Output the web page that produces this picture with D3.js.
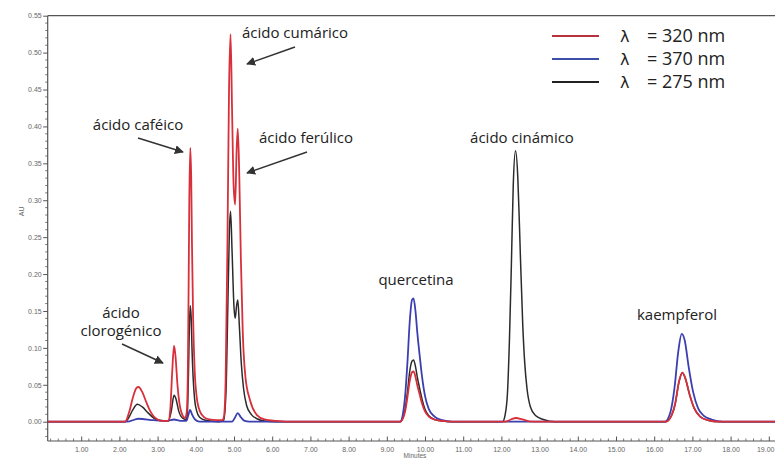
<!DOCTYPE html>
<html>
<head>
<meta charset="utf-8">
<script src="https://cdn.jsdelivr.net/npm/d3@7"></script>
<style>
  html, body { margin: 0; padding: 0; background: #fff; }
  svg { display: block; }
  .tick text { font-family: Arial, "Liberation Sans", sans-serif; }
</style>
</head>
<body>
<svg id="chart" width="775" height="459"></svg>
<script>
// Chromatogram: absorbance (AU) vs retention time (minutes) at three wavelengths.
// Each trace is a list of [minutes, AU] samples.
const trace320 = [
  [0.10, 0], [2.10, 0], [2.15, 0.000], [2.25, 0.012], [2.35, 0.032], [2.45, 0.046], [2.50, 0.047],
  [2.60, 0.040], [2.70, 0.027], [2.80, 0.015], [2.90, 0.007], [3.00, 0.003], [3.10, 0.001],
  [3.28, 0.001], [3.33, 0.015], [3.38, 0.065], [3.43, 0.103], [3.47, 0.088], [3.52, 0.050],
  [3.58, 0.022], [3.65, 0.009], [3.72, 0.005], [3.76, 0.012], [3.79, 0.060], [3.81, 0.170],
  [3.83, 0.300], [3.855, 0.371], [3.88, 0.330], [3.90, 0.240], [3.93, 0.140], [3.97, 0.070],
  [4.02, 0.035], [4.10, 0.015], [4.20, 0.007], [4.35, 0.003], [4.55, 0.002], [4.70, 0.002],
  [4.74, 0.008], [4.78, 0.055], [4.83, 0.250], [4.87, 0.450], [4.91, 0.525], [4.95, 0.420],
  [4.99, 0.320], [5.03, 0.294], [5.07, 0.370], [5.10, 0.397], [5.14, 0.330], [5.18, 0.220],
  [5.23, 0.120], [5.30, 0.060], [5.42, 0.029], [5.60, 0.009], [5.80, 0.003], [6.10, 0.001],
  [6.40, 0], [9.35, 0], [9.42, 0.004], [9.48, 0.014], [9.54, 0.033], [9.60, 0.055], [9.66, 0.067],
  [9.70, 0.068], [9.75, 0.061], [9.80, 0.049], [9.86, 0.037], [9.92, 0.025], [10.00, 0.014],
  [10.10, 0.007], [10.25, 0.003], [10.45, 0.001], [10.70, 0], [12.10, 0], [12.25, 0.003],
  [12.38, 0.005], [12.55, 0.003], [12.80, 0], [16.30, 0], [16.45, 0.008], [16.55, 0.025],
  [16.65, 0.055], [16.74, 0.0665], [16.82, 0.058], [16.92, 0.038], [17.05, 0.018], [17.20, 0.007],
  [17.40, 0.002], [17.70, 0], [19.40, 0]
];

const trace370 = [
  [0.10, 0], [2.20, 0], [2.50, 0.004], [2.90, 0.002], [3.25, 0.001], [3.43, 0.003], [3.60, 0.001],
  [3.75, 0.001], [3.80, 0.008], [3.85, 0.016], [3.90, 0.010], [3.98, 0.003], [4.10, 0],
  [4.95, 0], [5.02, 0.005], [5.10, 0.0115], [5.18, 0.006], [5.28, 0.001], [5.40, 0],
  [9.35, 0], [9.42, 0.010], [9.48, 0.035], [9.54, 0.080], [9.60, 0.135], [9.66, 0.165],
  [9.70, 0.167], [9.75, 0.150], [9.80, 0.120], [9.86, 0.090], [9.92, 0.062], [10.00, 0.035],
  [10.10, 0.017], [10.25, 0.007], [10.45, 0.002], [10.70, 0],
  [16.28, 0], [16.42, 0.012], [16.53, 0.045], [16.63, 0.095], [16.72, 0.119],
  [16.80, 0.110], [16.90, 0.075], [17.02, 0.040], [17.15, 0.018], [17.30, 0.008], [17.50, 0.003],
  [17.80, 0], [19.40, 0]
];

const trace275 = [
  [0.10, 0], [2.15, 0], [2.25, 0.006], [2.35, 0.016], [2.47, 0.0235], [2.60, 0.020], [2.75, 0.012],
  [2.90, 0.005], [3.05, 0.002], [3.28, 0.001], [3.36, 0.015], [3.43, 0.036], [3.48, 0.031],
  [3.55, 0.015], [3.65, 0.005], [3.74, 0.003], [3.77, 0.006], [3.79, 0.025], [3.81, 0.070],
  [3.83, 0.125], [3.855, 0.157], [3.88, 0.140], [3.90, 0.100], [3.93, 0.060], [3.97, 0.030],
  [4.02, 0.015], [4.10, 0.006], [4.25, 0.002], [4.60, 0],
  [4.73, 0.002], [4.79, 0.040], [4.84, 0.160], [4.88, 0.260], [4.91, 0.285], [4.95, 0.230],
  [5.00, 0.155], [5.03, 0.140], [5.07, 0.158], [5.10, 0.165], [5.14, 0.130], [5.19, 0.080],
  [5.25, 0.045], [5.33, 0.022], [5.45, 0.010], [5.60, 0.004], [5.80, 0.001], [6.10, 0],
  [9.35, 0], [9.42, 0.005], [9.48, 0.017], [9.54, 0.040], [9.60, 0.068], [9.66, 0.082],
  [9.70, 0.0836], [9.75, 0.075], [9.80, 0.060], [9.86, 0.045], [9.92, 0.031], [10.00, 0.017],
  [10.10, 0.008], [10.25, 0.003], [10.45, 0.001], [10.70, 0],
  [12.03, 0], [12.10, 0.010], [12.16, 0.040], [12.21, 0.110], [12.26, 0.210], [12.31, 0.320],
  [12.37, 0.367], [12.43, 0.330], [12.47, 0.270], [12.50, 0.220], [12.56, 0.130], [12.61, 0.080],
  [12.67, 0.045], [12.76, 0.020], [12.90, 0.008], [13.10, 0.003], [13.40, 0],
  [16.30, 0], [16.45, 0.008], [16.55, 0.024], [16.65, 0.054], [16.74, 0.066], [16.82, 0.058],
  [16.92, 0.038], [17.05, 0.018], [17.20, 0.007], [17.40, 0.002], [17.70, 0], [19.40, 0]
];

const xTickValues = [1, 2, 3, 4, 5, 6, 7, 8, 9, 10, 11, 12, 13, 14, 15, 16, 17, 18, 19];
const yTickValues = [0, 0.05, 0.10, 0.15, 0.20, 0.25, 0.30, 0.35, 0.40, 0.45, 0.50, 0.55];
const legendLabels = ["= 320 nm", "= 370 nm", "= 275 nm"];
const peakNames = ["ácido cumárico", "ácido caféico", "ácido ferúlico", "ácido cinámico",
                   "quercetina", "kaempferol"];
const chlorogenicName = ["ácido", "clorogénico"];

// ---- layout ----
const W = 775, H = 459;
const axisLeftX = 47.7, plotTop = 15.7, axisBottomY = 441;
const svg = d3.select("#chart");

const x = d3.scaleLinear().domain([0, 19]).range([43, 43 + 19 * 38.2]);
const y = d3.scaleLinear().domain([0, 0.55]).range([421.7, 15.7]);

const axisColor = "#555";
const labelFont = "'Open Sans', 'Noto Sans', sans-serif";

// top frame line
svg.append("line").attr("x1", axisLeftX).attr("x2", W).attr("y1", plotTop).attr("y2", plotTop)
  .attr("stroke", axisColor).attr("stroke-width", 1.2);

// y axis with minor ticks
const yMinor = d3.range(0, 56).map(i => i / 100).filter(v => Math.round(v * 100) % 5 !== 0);
const yMinorTicks = yMinor.concat([-0.01, -0.02]);
const yAxisG = svg.append("g").attr("transform", `translate(${axisLeftX},0)`);
yAxisG.selectAll("line.minor").data(yMinorTicks).join("line")
  .attr("class", "minor").attr("x1", -2.5).attr("x2", 0)
  .attr("y1", d => y(d)).attr("y2", d => y(d)).attr("stroke", axisColor).attr("stroke-width", 0.8);
yAxisG.call(d3.axisLeft(y).tickValues(yTickValues).tickFormat(d3.format(".2f"))
    .tickSizeInner(4.5).tickSizeOuter(0).tickPadding(1.5))
  .call(g => g.select(".domain").attr("d", `M0,${plotTop}V${axisBottomY}`).attr("stroke", axisColor).attr("stroke-width", 1.2))
  .call(g => g.selectAll(".tick line").attr("stroke", axisColor))
  .call(g => g.selectAll(".tick text").attr("font-size", 7).attr("fill", "#666"));

// x axis: ticks point up into the plot
const xMinor = d3.range(0, 97).map(i => i * 0.2).filter(v => Math.abs(v - Math.round(v)) > 1e-6);
const xAxisG = svg.append("g").attr("transform", `translate(0,${axisBottomY})`);
xAxisG.selectAll("line.minor").data(xMinor.filter(v => x(v) > axisLeftX)).join("line")
  .attr("class", "minor").attr("y1", -2.5).attr("y2", 0)
  .attr("x1", d => x(d)).attr("x2", d => x(d)).attr("stroke", axisColor).attr("stroke-width", 0.8);
xAxisG.call(d3.axisBottom(x).tickValues(xTickValues).tickFormat(d3.format(".2f"))
    .tickSizeInner(-4.5).tickSizeOuter(0).tickPadding(6))
  .call(g => g.select(".domain").attr("d", `M${axisLeftX},0H${W}`).attr("stroke", axisColor).attr("stroke-width", 1.2))
  .call(g => g.selectAll(".tick line").attr("stroke", axisColor))
  .call(g => g.selectAll(".tick text").attr("font-size", 7).attr("fill", "#666"))
  // keep the last label inside the right edge
  .call(g => g.selectAll(".tick").filter(d => d === 19).select("text")
    .attr("text-anchor", "end").attr("x", W - 1 - x(19)));

// axis titles
svg.append("text").attr("transform", `translate(24,${y(0.285)}) rotate(-90)`)
  .attr("text-anchor", "middle").attr("font-family", "Arial, sans-serif").attr("font-size", 7)
  .attr("fill", "#666").text("AU");
svg.append("text").attr("x", 415).attr("y", 457.5).attr("text-anchor", "middle")
  .attr("font-family", "Arial, sans-serif").attr("font-size", 6.5).attr("fill", "#666").text("Minutes");

// traces
svg.append("defs").append("clipPath").attr("id", "plotClip")
  .append("rect").attr("x", axisLeftX).attr("y", plotTop).attr("width", W - axisLeftX)
  .attr("height", axisBottomY - plotTop);

const line = d3.line().x(d => x(d[0])).y(d => y(d[1])).curve(d3.curveMonotoneX);
const traces = [
  { data: trace275, color: "#2b2b2b", width: 1.5 },
  { data: trace370, color: "#3b3fb0", width: 1.8 },
  { data: trace320, color: "#d8303a", width: 1.8 }
];
const traceG = svg.append("g").attr("clip-path", "url(#plotClip)");
traceG.selectAll("path").data(traces).join("path")
  .attr("d", d => line(d.data)).attr("fill", "none")
  .attr("stroke", d => d.color).attr("stroke-width", d => d.width)
  .attr("stroke-linejoin", "round");

// legend
const legendColors = ["#b8323d", "#3b4fa8", "#222"];
const legendRowsY = [36, 59, 82];
const legend = svg.append("g");
legendLabels.forEach((lab, i) => {
  const ly = legendRowsY[i];
  legend.append("line").attr("x1", 552).attr("x2", 599).attr("y1", ly).attr("y2", ly)
    .attr("stroke", legendColors[i]).attr("stroke-width", 2.2);
  legend.append("text").attr("x", 620).attr("y", ly).attr("dy", "0.35em")
    .attr("font-family", "'DejaVu Sans', sans-serif").attr("font-size", 16).attr("fill", "#222")
    .text("λ");
  legend.append("text").attr("x", 647).attr("y", ly).attr("dy", "0.35em")
    .attr("font-family", labelFont).attr("font-size", 18).attr("fill", "#222").text(lab);
});

// peak annotations
svg.select("defs").append("marker").attr("id", "arrowHead").attr("viewBox", "0 0 10 10")
  .attr("refX", 9).attr("refY", 5).attr("markerWidth", 6).attr("markerHeight", 6)
  .attr("orient", "auto-start-reverse")
  .append("path").attr("d", "M0,0L10,5L0,10z").attr("fill", "#333");

const labelPos = [
  { x: 295, y: 33 }, { x: 138, y: 125 }, { x: 306, y: 138 }, { x: 522, y: 138 },
  { x: 416, y: 280 }, { x: 677, y: 315 }
];
const labelSize = 15;
peakNames.forEach((name, i) => {
  svg.append("text").attr("x", labelPos[i].x).attr("y", labelPos[i].y).attr("dy", "0.35em")
    .attr("text-anchor", "middle").attr("font-family", labelFont).attr("font-size", labelSize)
    .attr("fill", "#222").text(name);
});
chlorogenicName.forEach((t, i) => {
  svg.append("text").attr("x", 121).attr("y", 313 + i * 18).attr("dy", "0.35em")
    .attr("text-anchor", "middle").attr("font-family", labelFont).attr("font-size", labelSize)
    .attr("fill", "#222").text(t);
});

const arrows = [
  [295, 47, 247, 64],
  [307, 152, 247, 173],
  [138, 138, 183, 152],
  [122, 344, 163, 363]
];
arrows.forEach(a => {
  svg.append("line").attr("x1", a[0]).attr("y1", a[1]).attr("x2", a[2]).attr("y2", a[3])
    .attr("stroke", "#333").attr("stroke-width", 1.5).attr("marker-end", "url(#arrowHead)");
});
</script>
</body>
</html>
